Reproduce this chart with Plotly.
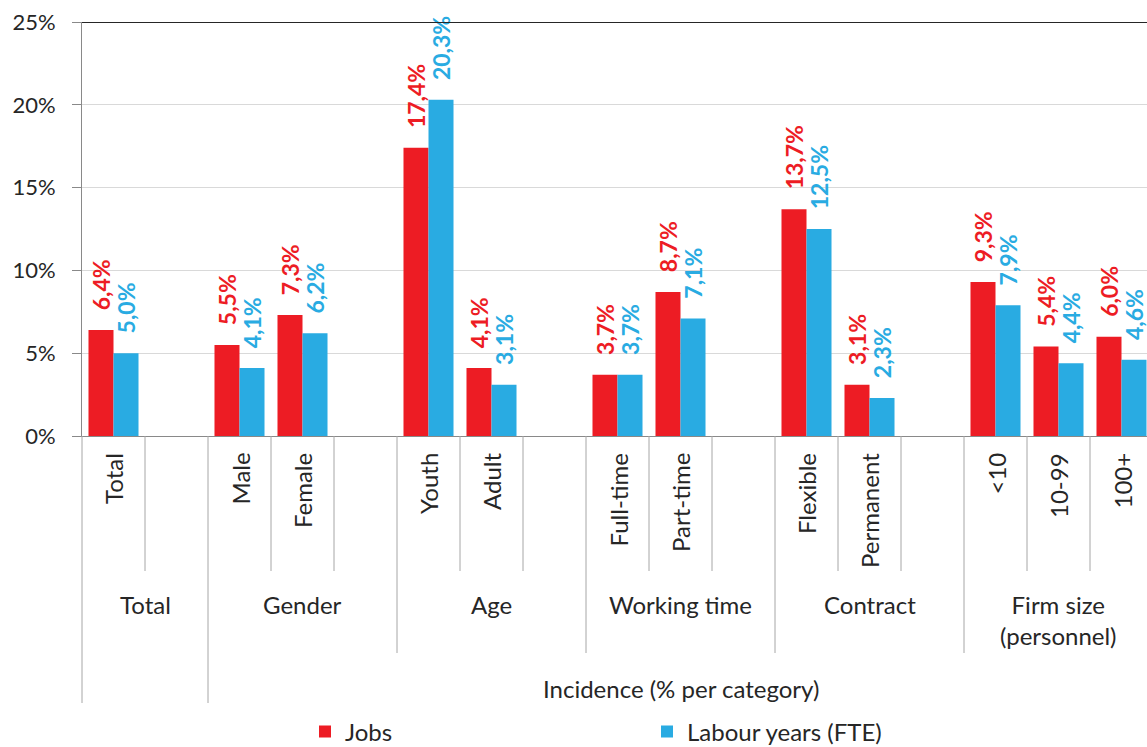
import plotly.graph_objects as go

# ---------------- data ----------------
categories = ["Total", "Male", "Female", "Youth", "Adult", "Full-time", "Part-time",
              "Flexible", "Permanent", "&lt;10", "10-99", "100+"]
slot_index = [0, 2, 3, 5, 6, 8, 9, 11, 12, 14, 15, 16]
jobs = [6.4, 5.5, 7.3, 17.4, 4.1, 3.7, 8.7, 13.7, 3.1, 9.3, 5.4, 6.0]
labour_years = [5.0, 4.1, 6.2, 20.3, 3.1, 3.7, 7.1, 12.5, 2.3, 7.9, 4.4, 4.6]

group_names = ["Total", "Gender", "Age", "Working time", "Contract", "Firm size<br>(personnel)"]
group_start = [0, 2, 5, 8, 11, 14]
group_end = [2, 5, 8, 11, 14, 17]

outer_names = ["", "Incidence (% per category)"]
outer_start = [0, 2]
outer_end = [2, 17]

y_ticks = [0, 5, 10, 15, 20, 25]
y_tick_labels = ["0%", "5%", "10%", "15%", "20%", "25%"]

# ---------------- styling ----------------
RED = "#ED1C24"
BLUE = "#29ABE2"
TXT = "#262626"
AX = "#898989"
SEP = "#a6a6a6"
FONT = "Lato"
FS = 24
FS_TICK = 22
FS_DATA = 23

W, H = 1147, 747
ML, MR, MT, MB = 82, 0, 22, 311
SLOT_PX = 63
plot_w = W - ML - MR
plot_h = H - MT - MB
xmax = plot_w / SLOT_PX


def ypaper(px):
    return (H - MB - px) / plot_h


def xpaper(slot):
    return slot / xmax


def fmt(v):
    return "\u00a0\u00a0\u00a0" + f"{v:.1f}".replace(".", ",") + "%"


xs = [s + 0.5 for s in slot_index]

fig = go.Figure()
fig.add_trace(go.Bar(
    x=xs, y=jobs, name="Jobs", marker=dict(color=RED, line=dict(width=0)),
    text=[fmt(v) for v in jobs], textposition="outside", textangle=-90,
    textfont=dict(family=FONT, size=FS_DATA, color=RED, weight="bold"),
    cliponaxis=False, constraintext="none", hoverinfo="skip",
))
fig.add_trace(go.Bar(
    x=xs, y=labour_years, name="Labour years (FTE)", marker=dict(color=BLUE, line=dict(width=0)),
    text=[fmt(v) for v in labour_years], textposition="outside", textangle=-90,
    textfont=dict(family=FONT, size=FS_DATA, color=BLUE, weight="bold"),
    cliponaxis=False, constraintext="none", hoverinfo="skip",
))

shapes = []
annotations = []

# top border line at 25%
shapes.append(dict(type="line", xref="paper", yref="y", x0=0, x1=1, y0=25, y1=25,
                   line=dict(color="#262626", width=2)))

# separators between categories / groups
group_bounds = set(group_start) | set(group_end)
for b in range(0, 18):
    if b in outer_start or b in outer_end:
        yend = 703
    elif b in group_bounds:
        yend = 653
    else:
        yend = 571
    shapes.append(dict(type="line", xref="paper", yref="paper",
                       x0=xpaper(b), x1=xpaper(b), y0=0, y1=ypaper(yend),
                       line=dict(color=SEP, width=1)))

# category labels
for name, s in zip(categories, slot_index):
    annotations.append(dict(text=name, xref="paper", yref="paper",
                            x=xpaper(s + 0.5), y=ypaper(451), xanchor="center", yanchor="top",
                            textangle=-90, showarrow=False,
                            font=dict(family=FONT, size=FS, color=TXT)))

# group labels
for name, a, b in zip(group_names, group_start, group_end):
    annotations.append(dict(text=name, xref="paper", yref="paper",
                            x=xpaper((a + b) / 2), y=ypaper(588), xanchor="center", yanchor="top",
                            showarrow=False, font=dict(family=FONT, size=FS, color=TXT)))

# outer labels
for name, a, b in zip(outer_names, outer_start, outer_end):
    if name:
        annotations.append(dict(text=name, xref="paper", yref="paper",
                                x=xpaper((a + b) / 2), y=ypaper(688), xanchor="center", yanchor="middle",
                                showarrow=False, font=dict(family=FONT, size=FS, color=TXT)))

fig.update_layout(
    width=W, height=H,
    margin=dict(l=ML, r=MR, t=MT, b=MB, autoexpand=False),
    paper_bgcolor="white", plot_bgcolor="white",
    barmode="group", bargap=0.206, bargroupgap=0,
    font=dict(family=FONT, size=FS, color=TXT),
    showlegend=True,
    legend=dict(orientation="h", x=(305 - ML) / plot_w, y=ypaper(732),
                xanchor="left", yanchor="middle", entrywidth=297, entrywidthmode="pixels",
                font=dict(family=FONT, size=FS, color=TXT), bgcolor="rgba(0,0,0,0)"),
    xaxis=dict(range=[0, xmax], showticklabels=False, ticks="", showgrid=False,
               zeroline=False, showline=True, linecolor=AX, linewidth=1,
               fixedrange=True, automargin=False),
    yaxis=dict(range=[0, 25], tickvals=y_ticks, ticktext=y_tick_labels,
               showgrid=True, gridcolor="#d9d9d9", gridwidth=1, zeroline=False,
               showline=True, linecolor=AX, linewidth=1, ticks="outside", ticklen=9,
               tickcolor=AX, ticklabelstandoff=12, automargin=False,
               tickfont=dict(family=FONT, size=FS_TICK, color=TXT), fixedrange=True),
    shapes=shapes, annotations=annotations,
)

fig.write_html("out.html", config={"displayModeBar": False},
               post_script="document.body.style.margin='0';document.body.style.overflow='hidden';")
